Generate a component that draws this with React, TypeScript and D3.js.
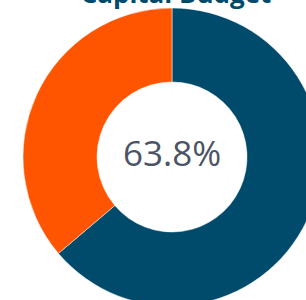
import { useRef, useEffect } from 'react';
import * as d3 from 'd3';

const labels = ['Spent', 'Remaining'];
const values = [63.8, 36.2];
const colors = ['#004b6b', '#ff5400'];
const title = 'Capital Budget';
const centerLabel = '63.8%';

const App = () => {
  const svgRef = useRef<SVGSVGElement>(null);

  useEffect(() => {
    const width = 306;
    const height = 300;
    const svg = d3.select(svgRef.current)
      .attr('width', width)
      .attr('height', height)
      .style('position', 'absolute')
      .style('left', 0)
      .style('top', 0);

    svg.selectAll('*').remove();

    const cx = 172;
    const cy = 157;
    const outer = 149;
    const inner = 75;

    const pie = d3.pie<number>().sort(null).value(d => d);
    const arc = d3.arc<d3.PieArcDatum<number>>()
      .innerRadius(inner)
      .outerRadius(outer);

    const g = svg.append('g').attr('transform', `translate(${cx},${cy})`);

    g.selectAll('path')
      .data(pie(values))
      .enter()
      .append('path')
      .attr('d', arc)
      .attr('fill', (_, i) => colors[i])
      .attr('stroke', '#fff')
      .attr('stroke-width', 0.5)
      .append('title')
      .text((_, i) => labels[i]);

    g.append('text')
      .attr('x', 0)
      .attr('y', 9)
      .attr('text-anchor', 'middle')
      .attr('font-family', 'Open Sans')
      .attr('font-size', 35)
      .attr('fill', '#4b5466')
      .text(centerLabel);

    // title sits mostly above the frame, as in the source picture
    svg.append('text')
      .attr('x', 176)
      .attr('y', 3)
      .attr('text-anchor', 'middle')
      .attr('font-family', 'Open Sans')
      .attr('font-weight', 'bold')
      .attr('font-size', 26)
      .attr('fill', '#004b6b')
      .text(title);
  }, []);

  return <svg ref={svgRef}></svg>;
};

export default App;
